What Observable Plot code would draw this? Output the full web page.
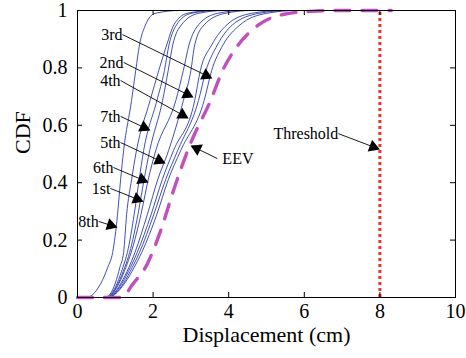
<!DOCTYPE html>
<html>
<head>
<meta charset="utf-8">
<script src="https://cdn.jsdelivr.net/npm/d3@7"></script>
<script src="https://cdn.jsdelivr.net/npm/@observablehq/plot@0.6"></script>
<style>
  body { margin: 0; background: #fff; }
  #chart svg { display: block; }
</style>
</head>
<body>
<div id="chart"></div>
<script>
// CDF levels shared by the simulated runs; each run lists its displacement (cm) at these levels
const cdfLevels = [0, 0, 0.01, 0.05, 0.105, 0.157, 0.29, 0.41, 0.512, 0.686, 0.791, 0.88, 0.95, 0.99, 1, 1];
const dispAux = [0, 0.70, 0.85, 1.00, 1.12, 1.22, 1.30, 1.43, 1.56, 1.92, 2.15, 2.36, 2.55, 2.90, 3.60, 8.3];
const disp7th = [0, 0.75, 0.88, 1.05, 1.20, 1.32, 1.50, 1.63, 1.75, 2.10, 2.30, 2.42, 2.62, 3.00, 3.70, 8.3];
const disp1st = [0, 0.75, 0.90, 1.08, 1.25, 1.38, 1.60, 1.76, 1.91, 2.25, 2.40, 2.52, 2.75, 3.20, 3.90, 8.3];
const disp6th = [0, 0.78, 0.90, 1.10, 1.28, 1.42, 1.68, 1.87, 2.07, 2.60, 2.80, 2.95, 3.20, 3.70, 4.40, 8.3];
const disp5th = [0, 0.80, 0.93, 1.15, 1.36, 1.52, 1.85, 2.12, 2.41, 2.80, 3.00, 3.10, 3.35, 3.90, 4.60, 8.3];
const disp4th = [0, 0.80, 0.95, 1.18, 1.40, 1.58, 1.95, 2.24, 2.54, 3.10, 3.25, 3.55, 3.95, 4.60, 5.40, 8.3];
const disp2nd = [0, 0.82, 0.97, 1.22, 1.45, 1.64, 2.02, 2.33, 2.65, 3.20, 3.40, 3.70, 4.10, 4.80, 5.60, 8.3];
const disp3rd = [0, 0.82, 0.98, 1.25, 1.50, 1.70, 2.10, 2.40, 2.73, 3.35, 3.55, 3.85, 4.30, 5.00, 5.80, 8.3];
const disp8th = [0, 0.25, 0.40, 0.62, 0.80, 0.93, 1.06, 1.14, 1.22, 1.43, 1.54, 1.64, 1.80, 2.05, 2.70, 8.3];

// Extreme-value (EEV) fit
const eevDisp = [0, 1.15, 1.30, 1.40, 1.85, 2.20, 2.54, 2.99, 3.52, 3.84, 4.24, 4.77, 5.43, 6.17, 7.00, 8.3];
const eevCdf  = [0, 0, 0.015, 0.035, 0.118, 0.233, 0.373, 0.537, 0.686, 0.791, 0.878, 0.948, 0.986, 0.997, 1, 1];

// Displacement threshold (cm)
const threshold = 8;

// Axis ticks
const xTicks = [0, 2, 4, 6, 8, 10];
const yTicks = [0, 0.2, 0.4, 0.6, 0.8, 1];
const yTickLabels = ["0", "0.2", "0.4", "0.6", "0.8", "1"];

// Callouts: label, tail (at the label) and tip (on the curve), in data units
const annLabel = ["3rd", "2nd", "4th", "7th", "5th", "6th", "1st", "8th", "EEV", "Threshold"];
const annTailX = [1.19, 1.22, 1.14, 1.14, 1.14, 0.95, 0.87, 0.56, 3.70, 6.90];
const annTailY = [0.916, 0.819, 0.756, 0.631, 0.540, 0.453, 0.380, 0.265, 0.484, 0.571];
const annTipX  = [3.57, 3.07, 2.94, 1.93, 2.33, 1.88, 1.75, 1.06, 2.99, 8.00];
const annTipY  = [0.763, 0.697, 0.624, 0.582, 0.467, 0.401, 0.334, 0.244, 0.530, 0.516];

const W = 466, H = 358;
const mL = 77, mR = 11, mT = 10, mB = 61;
const innerW = W - mL - mR, innerH = H - mT - mB;
const tick = 5;
const serif = "'Liberation Serif', 'Times New Roman', serif";

const runs = [dispAux, disp7th, disp1st, disp6th, disp5th, disp4th, disp2nd, disp3rd, disp8th];
const runRows = runs.flatMap((xs, k) => xs.map((x, i) => ({run: k, x, y: cdfLevels[i]})));
const eevRows = eevDisp.map((x, i) => ({x, y: eevCdf[i]}));

// Arrowheads: filled triangles whose tip sits on the target point
const sx = d3.scaleLinear([0, 10], [mL, W - mR]);
const sy = d3.scaleLinear([0, 1], [H - mB, mT]);
const headR = 4.6;
const headTip = 2 * Math.sqrt((headR * headR * Math.PI) / (3 * Math.sqrt(3)));
const callouts = annLabel.map((label, i) => {
  const px0 = sx(annTailX[i]), py0 = sy(annTailY[i]);
  const px1 = sx(annTipX[i]), py1 = sy(annTipY[i]);
  const dx = px1 - px0, dy = py1 - py0, len = Math.hypot(dx, dy);
  const cx = px1 - dx / len * headTip, cy = py1 - dy / len * headTip;
  return {
    label,
    x1: annTailX[i], y1: annTailY[i],
    hx: sx.invert(cx), hy: sy.invert(cy),
    angle: Math.atan2(dx, -dy) * 180 / Math.PI,
    leftward: dx < 0
  };
});

const txt = {fontFamily: serif, fill: "#000"};

const chart = Plot.plot({
  width: W,
  height: H,
  marginLeft: mL,
  marginRight: mR,
  marginTop: mT,
  marginBottom: mB,
  x: {domain: [0, 10], axis: null},
  y: {domain: [0, 1], axis: null},
  style: {fontFamily: serif, background: "#fff", color: "#000"},
  marks: [
    // simulated runs
    Plot.line(runRows, {x: "x", y: "y", z: "run", stroke: "#2b3ca8", strokeWidth: 0.9, curve: "monotone-x"}),
    // EEV fit
    Plot.line(eevRows, {x: "x", y: "y", stroke: "#c24fbe", strokeWidth: 3.4, strokeDasharray: "15,12", curve: "monotone-x"}),
    // threshold
    Plot.ruleX([threshold], {x: d => d, y1: 0, y2: 1, stroke: "#e8332c", strokeWidth: 3, strokeDasharray: "3,3"}),
    // frame and inward ticks on all sides
    Plot.frame({stroke: "#000", strokeWidth: 1}),
    Plot.ruleX(xTicks, {x: d => d, insetTop: innerH - tick, stroke: "#000"}),
    Plot.ruleX(xTicks, {x: d => d, insetBottom: innerH - tick, stroke: "#000"}),
    Plot.ruleY(yTicks, {y: d => d, insetRight: innerW - tick, stroke: "#000"}),
    Plot.ruleY(yTicks, {y: d => d, insetLeft: innerW - tick, stroke: "#000"}),
    // tick labels
    Plot.text(xTicks, {...txt, x: d => d, text: d => String(d), frameAnchor: "bottom", lineAnchor: "top", dy: 6, fontSize: 20}),
    Plot.text(yTicks, {...txt, y: d => d, text: (d, i) => yTickLabels[i], frameAnchor: "left", textAnchor: "end", dx: -10, fontSize: 20}),
    // axis titles
    Plot.text(["Displacement (cm)"], {...txt, text: d => d, frameAnchor: "bottom", lineAnchor: "top", dy: 29, fontSize: 22}),
    Plot.text(["CDF"], {...txt, text: d => d, frameAnchor: "left", dx: -55, rotate: -90, fontSize: 22}),
    // callouts
    Plot.link(callouts, {x1: "x1", y1: "y1", x2: "hx", y2: "hy", stroke: "#000", strokeWidth: 0.9}),
    Plot.dot(callouts, {x: "hx", y: "hy", symbol: "triangle", r: headR, fill: "#000", stroke: "none", rotate: "angle"}),
    Plot.text(callouts.filter(d => !d.leftward), {...txt, x: "x1", y: "y1", text: "label", textAnchor: "end", fontSize: 16}),
    Plot.text(callouts.filter(d => d.leftward), {...txt, x: "x1", y: "y1", text: "label", textAnchor: "start", dx: 5, fontSize: 16})
  ]
});

document.getElementById("chart").append(chart);
</script>
</body>
</html>
